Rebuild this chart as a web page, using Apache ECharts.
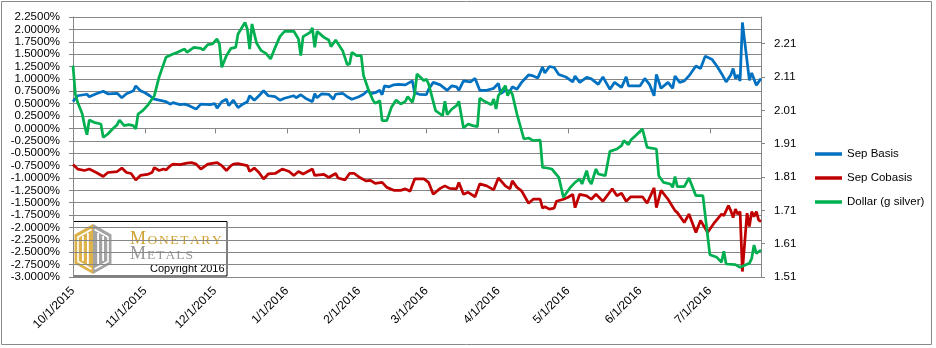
<!DOCTYPE html>
<html>
<head>
<meta charset="utf-8">
<script src="https://cdn.jsdelivr.net/npm/echarts@6/dist/echarts.min.js"></script>
<style>
  html, body { margin: 0; padding: 0; background: #fff; }
  #chart { width: 936px; height: 348px; }
</style>
</head>
<body>
<div id="chart"></div>
<script>
// Month ticks on the date axis
const monthTicks = ['2015-10-01','2015-11-01','2015-12-01','2016-01-01','2016-02-01',
  '2016-03-01','2016-04-01','2016-05-01','2016-06-01','2016-07-01'];
const dateRange = ['2015-10-01', '2016-07-23'];

// Secondary axis ticks (dollar priced in grams of silver)
const dollarTicks = [1.51, 1.61, 1.71, 1.81, 1.91, 2.01, 2.11, 2.21];

// Sep Basis, percent
const basis = [
['2015-10-01',0.54],['2015-10-03',0.66],['2015-10-07',0.69],['2015-10-08',0.64],['2015-10-11',0.70],
['2015-10-14',0.75],['2015-10-16',0.70],['2015-10-20',0.71],['2015-10-22',0.62],['2015-10-24',0.70],
['2015-10-27',0.76],['2015-10-28',0.86],['2015-10-30',0.76],['2015-11-01',0.72],['2015-11-03',0.66],
['2015-11-05',0.59],['2015-11-07',0.57],['2015-11-10',0.54],['2015-11-12',0.49],['2015-11-13',0.52],
['2015-11-16',0.48],['2015-11-18',0.49],['2015-11-20',0.46],['2015-11-23',0.39],['2015-11-25',0.49],
['2015-11-29',0.48],['2015-12-01',0.50],['2015-12-02',0.41],['2015-12-04',0.54],['2015-12-06',0.59],
['2015-12-07',0.46],['2015-12-09',0.57],['2015-12-11',0.42],['2015-12-13',0.49],['2015-12-15',0.54],
['2015-12-16',0.66],['2015-12-18',0.57],['2015-12-20',0.66],['2015-12-22',0.76],['2015-12-24',0.66],
['2015-12-27',0.64],['2015-12-29',0.57],['2015-12-31',0.61],['2016-01-04',0.66],['2016-01-05',0.62],
['2016-01-07',0.68],['2016-01-09',0.61],['2016-01-12',0.54],['2016-01-13',0.70],['2016-01-14',0.62],
['2016-01-16',0.70],['2016-01-19',0.69],['2016-01-21',0.59],['2016-01-22',0.69],['2016-01-25',0.71],
['2016-01-27',0.64],['2016-01-29',0.59],['2016-02-01',0.64],['2016-02-03',0.69],['2016-02-05',0.77],
['2016-02-06',0.70],['2016-02-08',0.72],['2016-02-10',0.77],['2016-02-11',0.68],['2016-02-12',0.86],
['2016-02-14',0.84],['2016-02-16',0.88],['2016-02-18',0.89],['2016-02-21',0.88],['2016-02-24',0.96],
['2016-02-25',0.72],['2016-02-27',0.69],['2016-03-01',0.68],['2016-03-02',0.79],['2016-03-04',0.93],
['2016-03-07',0.88],['2016-03-10',0.77],['2016-03-12',0.86],['2016-03-14',0.84],['2016-03-15',0.77],
['2016-03-17',0.96],['2016-03-20',0.94],['2016-03-22',1.01],['2016-03-24',0.77],['2016-03-27',0.77],
['2016-03-30',0.81],['2016-04-01',0.91],['2016-04-02',0.70],['2016-04-04',0.77],['2016-04-06',0.75],
['2016-04-07',0.84],['2016-04-09',0.79],['2016-04-11',0.93],['2016-04-14',1.08],['2016-04-16',1.06],
['2016-04-18',1.02],['2016-04-20',1.24],['2016-04-21',1.12],['2016-04-23',1.25],['2016-04-25',1.23],
['2016-04-27',1.09],['2016-04-30',1.04],['2016-05-03',0.94],['2016-05-04',1.06],['2016-05-06',0.93],
['2016-05-09',1.03],['2016-05-11',1.00],['2016-05-14',0.89],['2016-05-16',1.04],['2016-05-19',0.79],
['2016-05-21',0.93],['2016-05-24',0.83],['2016-05-26',1.04],['2016-05-27',0.86],['2016-06-01',0.86],
['2016-06-03',1.01],['2016-06-05',0.89],['2016-06-07',0.66],['2016-06-08',1.09],['2016-06-10',0.81],
['2016-06-13',0.93],['2016-06-15',0.81],['2016-06-16',1.06],['2016-06-18',0.93],['2016-06-20',0.96],
['2016-06-22',1.06],['2016-06-25',1.26],['2016-06-27',1.21],['2016-06-29',1.46],['2016-07-02',1.39],
['2016-07-04',1.26],['2016-07-06',1.11],['2016-07-08',0.94],['2016-07-10',1.08],['2016-07-11',1.21],
['2016-07-12',1.01],['2016-07-13',1.08],['2016-07-14',0.96],['2016-07-15',2.14],['2016-07-18',0.97],
['2016-07-19',1.12],['2016-07-21',0.87],['2016-07-23',1.01]
];

// Sep Cobasis, percent
const cobasis = [
['2015-10-01',-0.73],['2015-10-03',-0.82],['2015-10-06',-0.85],['2015-10-08',-0.82],['2015-10-11',-0.89],
['2015-10-14',-0.97],['2015-10-16',-0.89],['2015-10-20',-0.87],['2015-10-22',-0.80],['2015-10-24',-0.89],
['2015-10-26',-0.91],['2015-10-28',-1.04],['2015-10-30',-0.95],['2015-11-02',-0.93],['2015-11-04',-0.89],
['2015-11-05',-0.79],['2015-11-07',-0.85],['2015-11-09',-0.82],['2015-11-10',-0.84],['2015-11-12',-0.75],
['2015-11-13',-0.72],['2015-11-16',-0.73],['2015-11-19',-0.70],['2015-11-21',-0.69],['2015-11-23',-0.72],
['2015-11-25',-0.82],['2015-11-28',-0.72],['2015-12-02',-0.69],['2015-12-04',-0.75],['2015-12-06',-0.85],
['2015-12-08',-0.75],['2015-12-09',-0.72],['2015-12-11',-0.71],['2015-12-13',-0.73],['2015-12-15',-0.75],
['2015-12-16',-0.87],['2015-12-18',-0.80],['2015-12-20',-0.89],['2015-12-22',-1.02],['2015-12-24',-0.92],
['2015-12-27',-0.91],['2015-12-30',-0.82],['2016-01-02',-0.87],['2016-01-04',-0.95],['2016-01-06',-0.87],
['2016-01-08',-0.92],['2016-01-10',-0.87],['2016-01-12',-0.82],['2016-01-13',-0.95],['2016-01-17',-0.93],
['2016-01-19',-0.99],['2016-01-22',-0.91],['2016-01-23',-1.00],['2016-01-26',-1.04],['2016-01-28',-0.91],
['2016-01-30',-0.91],['2016-02-01',-0.98],['2016-02-04',-1.06],['2016-02-06',-1.05],['2016-02-08',-1.11],
['2016-02-11',-1.09],['2016-02-13',-1.19],['2016-02-16',-1.25],['2016-02-19',-1.25],['2016-02-21',-1.22],
['2016-02-23',-1.27],['2016-02-25',-1.02],['2016-02-29',-1.02],['2016-03-02',-1.09],['2016-03-04',-1.33],
['2016-03-07',-1.21],['2016-03-09',-1.16],['2016-03-11',-1.21],['2016-03-14',-1.22],['2016-03-15',-1.09],
['2016-03-17',-1.33],['2016-03-19',-1.29],['2016-03-22',-1.38],['2016-03-24',-1.12],['2016-03-27',-1.16],
['2016-03-30',-1.24],['2016-04-01',-1.00],['2016-04-04',-1.16],['2016-04-06',-1.22],['2016-04-07',-1.06],
['2016-04-09',-1.19],['2016-04-11',-1.26],['2016-04-14',-1.51],['2016-04-16',-1.43],['2016-04-19',-1.43],
['2016-04-20',-1.61],['2016-04-21',-1.58],['2016-04-23',-1.63],['2016-04-25',-1.61],['2016-04-26',-1.47],
['2016-04-29',-1.43],['2016-05-01',-1.39],['2016-05-03',-1.33],['2016-05-04',-1.60],['2016-05-06',-1.33],
['2016-05-09',-1.36],['2016-05-11',-1.43],['2016-05-13',-1.33],['2016-05-16',-1.47],['2016-05-20',-1.22],
['2016-05-22',-1.36],['2016-05-24',-1.31],['2016-05-26',-1.47],['2016-05-28',-1.38],['2016-06-02',-1.38],
['2016-06-04',-1.51],['2016-06-07',-1.20],['2016-06-08',-1.60],['2016-06-10',-1.25],['2016-06-13',-1.43],
['2016-06-16',-1.66],['2016-06-17',-1.70],['2016-06-20',-1.90],['2016-06-22',-1.73],['2016-06-25',-2.10],
['2016-06-27',-1.86],['2016-06-30',-2.10],['2016-07-03',-1.90],['2016-07-06',-1.73],['2016-07-07',-1.76],
['2016-07-09',-1.56],['2016-07-10',-1.66],['2016-07-11',-1.80],['2016-07-12',-1.63],['2016-07-13',-1.73],
['2016-07-14',-1.68],['2016-07-15',-2.89],['2016-07-17',-1.71],['2016-07-18',-1.98],['2016-07-19',-1.68],
['2016-07-20',-1.78],['2016-07-21',-1.68],['2016-07-22',-1.85],['2016-07-23',-1.88]
];

// Dollar, grams of silver
const dollar = [
['2015-10-01',2.144],['2015-10-02',2.059],['2015-10-03',2.034],['2015-10-05',1.999],['2015-10-06',1.964],
['2015-10-07',1.937],['2015-10-08',1.981],['2015-10-10',1.974],['2015-10-13',1.969],['2015-10-14',1.929],
['2015-10-16',1.939],['2015-10-18',1.954],['2015-10-20',1.967],['2015-10-21',1.981],['2015-10-23',1.964],
['2015-10-25',1.967],['2015-10-27',1.964],['2015-10-28',1.954],['2015-10-29',1.999],['2015-10-31',2.009],
['2015-11-02',2.024],['2015-11-05',2.054],['2015-11-07',2.109],['2015-11-08',2.129],['2015-11-10',2.169],
['2015-11-13',2.179],['2015-11-15',2.184],['2015-11-18',2.194],['2015-11-19',2.184],['2015-11-22',2.199],
['2015-11-25',2.196],['2015-11-26',2.191],['2015-11-28',2.207],['2015-11-30',2.209],['2015-12-02',2.224],
['2015-12-03',2.209],['2015-12-04',2.139],['2015-12-06',2.174],['2015-12-08',2.196],['2015-12-10',2.199],
['2015-12-11',2.239],['2015-12-14',2.274],['2015-12-15',2.254],['2015-12-16',2.194],['2015-12-17',2.269],
['2015-12-19',2.211],['2015-12-21',2.189],['2015-12-23',2.181],['2015-12-25',2.164],['2015-12-27',2.199],
['2015-12-29',2.231],['2015-12-31',2.247],['2016-01-04',2.247],['2016-01-06',2.224],['2016-01-07',2.174],
['2016-01-08',2.231],['2016-01-11',2.244],['2016-01-12',2.257],['2016-01-13',2.199],['2016-01-14',2.247],
['2016-01-17',2.229],['2016-01-19',2.221],['2016-01-20',2.201],['2016-01-22',2.221],['2016-01-25',2.189],
['2016-01-27',2.147],['2016-01-28',2.149],['2016-01-29',2.184],['2016-01-31',2.174],['2016-02-02',2.174],
['2016-02-03',2.114],['2016-02-05',2.074],['2016-02-07',2.041],['2016-02-08',2.031],['2016-02-10',2.039],
['2016-02-11',1.979],['2016-02-13',1.979],['2016-02-15',2.019],['2016-02-17',2.041],['2016-02-19',2.029],
['2016-02-21',2.037],['2016-02-22',2.051],['2016-02-24',2.034],['2016-02-25',2.060],['2016-02-26',2.119],
['2016-02-29',2.099],['2016-03-01',2.104],['2016-03-02',2.089],['2016-03-05',2.009],['2016-03-07',1.999],
['2016-03-08',1.994],['2016-03-09',2.037],['2016-03-10',1.997],['2016-03-12',2.014],['2016-03-14',2.024],
['2016-03-15',2.037],['2016-03-17',1.957],['2016-03-19',1.969],['2016-03-21',1.964],['2016-03-23',1.961],
['2016-03-24',2.047],['2016-03-26',2.037],['2016-03-29',2.027],['2016-03-30',2.044],['2016-03-31',2.014],
['2016-04-01',2.054],['2016-04-04',2.084],['2016-04-05',2.054],['2016-04-06',2.069],['2016-04-07',2.059],
['2016-04-09',1.999],['2016-04-12',1.924],['2016-04-14',1.927],['2016-04-16',1.919],['2016-04-19',1.921],
['2016-04-20',1.839],['2016-04-22',1.837],['2016-04-24',1.834],['2016-04-27',1.809],['2016-04-29',1.749],
['2016-05-02',1.779],['2016-05-04',1.794],['2016-05-06',1.804],['2016-05-07',1.789],['2016-05-09',1.829],
['2016-05-10',1.800],['2016-05-11',1.789],['2016-05-13',1.834],['2016-05-14',1.819],['2016-05-17',1.814],
['2016-05-19',1.887],['2016-05-22',1.894],['2016-05-24',1.904],['2016-05-25',1.919],['2016-05-27',1.907],
['2016-05-28',1.921],['2016-05-30',1.934],['2016-06-02',1.954],['2016-06-04',1.899],['2016-06-08',1.894],
['2016-06-09',1.814],['2016-06-11',1.794],['2016-06-14',1.789],['2016-06-15',1.779],['2016-06-16',1.811],
['2016-06-17',1.781],['2016-06-20',1.781],['2016-06-22',1.807],['2016-06-25',1.754],['2016-06-28',1.754],
['2016-07-01',1.577],['2016-07-04',1.569],['2016-07-06',1.554],['2016-07-07',1.587],['2016-07-08',1.549],
['2016-07-12',1.547],['2016-07-14',1.539],['2016-07-16',1.545],['2016-07-18',1.551],['2016-07-19',1.566],
['2016-07-20',1.606],['2016-07-21',1.581],['2016-07-23',1.591]
];

// Parse 'YYYY-MM-DD' as a local-time timestamp
function toTime(s) {
  const p = s.split('-').map(Number);
  return new Date(p[0], p[1] - 1, p[2]).getTime();
}
const asPoints = rows => rows.map(r => [toTime(r[0]), r[1]]);
const monthStamps = monthTicks.map(toTime);

const AXIS_GREY = '#868686';
const FONT = '"Liberation Sans", Arial, sans-serif';
const SERIF = '"Liberation Serif", "DejaVu Serif", serif';

const chart = echarts.init(document.getElementById('chart'), null, { renderer: 'canvas' });

const gold = '#DDB24A';
const grey = '#A3A3A3';
const wordGold = '#CFA232';
const wordGrey = '#989898';

// small-caps wordmark: a tall initial followed by spaced smaller capitals
function wordmark(colour, gap) {
  return {
    b: { fontFamily: SERIF, fontSize: 18, fill: colour, verticalAlign: 'bottom', padding: [0, gap, 0, 0] },
    s: { fontFamily: SERIF, fontSize: 13.5, fill: colour, verticalAlign: 'bottom', padding: [0, gap, 1, 0] }
  };
}

chart.setOption({
  animation: false,
  backgroundColor: '#fff',
  grid: { left: 73, right: 175, top: 17, bottom: 71 },
  legend: {
    orient: 'vertical',
    left: 810,
    top: 142,
    itemWidth: 27,
    itemHeight: 3.5,
    itemGap: 10,
    icon: 'rect',
    textStyle: { fontFamily: FONT, fontSize: 11.5, color: '#000', lineHeight: 14 },
    data: ['Sep Basis', 'Sep Cobasis', 'Dollar (g silver)']
  },
  xAxis: {
    // dates as timestamps on a linear scale, ticked at each month start
    type: 'value',
    min: toTime(dateRange[0]),
    max: toTime(dateRange[1]),
    axisLine: { show: true, lineStyle: { color: AXIS_GREY, width: 1 } },
    axisTick: { show: true, length: 5, lineStyle: { color: AXIS_GREY }, customValues: monthStamps },
    splitLine: { show: false },
    axisLabel: {
      customValues: monthStamps,
      rotate: 45,
      margin: 12,
      fontFamily: FONT,
      fontSize: 12,
      color: '#000',
      formatter: v => {
        const d = new Date(v);
        return (d.getMonth() + 1) + '/' + d.getDate() + '/' + d.getFullYear();
      }
    }
  },
  yAxis: [{
    type: 'value',
    min: -3,
    max: 2.25,
    interval: 0.25,
    axisLine: { show: true, lineStyle: { color: AXIS_GREY, width: 1 } },
    axisTick: { show: true, length: 4, lineStyle: { color: AXIS_GREY } },
    splitLine: { show: true, lineStyle: { color: AXIS_GREY, width: 1 } },
    axisLabel: {
      margin: 13,
      fontFamily: FONT,
      fontSize: 11.5,
      color: '#000',
      formatter: v => v.toFixed(4) + '%'
    }
  }, {
    type: 'value',
    position: 'right',
    min: 1.51,
    max: 2.29,
    axisLine: { show: true, lineStyle: { color: AXIS_GREY, width: 1 } },
    axisTick: { show: true, length: 4, lineStyle: { color: AXIS_GREY }, customValues: dollarTicks },
    splitLine: { show: false },
    axisLabel: {
      customValues: dollarTicks,
      margin: 13,
      fontFamily: FONT,
      fontSize: 11.5,
      color: '#000',
      formatter: v => v.toFixed(2)
    }
  }],
  series: [{
    name: 'Sep Basis',
    type: 'line',
    yAxisIndex: 0,
    showSymbol: false,
    color: '#0070C0',
    lineStyle: { width: 2.75, color: '#0070C0' },
    data: asPoints(basis)
  }, {
    name: 'Sep Cobasis',
    type: 'line',
    yAxisIndex: 0,
    showSymbol: false,
    color: '#C00000',
    lineStyle: { width: 2.75, color: '#C00000' },
    data: asPoints(cobasis)
  }, {
    name: 'Dollar (g silver)',
    type: 'line',
    yAxisIndex: 1,
    showSymbol: false,
    color: '#00B050',
    lineStyle: { width: 2.75, color: '#00B050' },
    data: asPoints(dollar)
  }],
  graphic: [
    // outer frame
    { type: 'rect', silent: true, z: 0,
      shape: { x: 1.5, y: 1.5, width: 930, height: 343 },
      style: { fill: null, stroke: '#8a8a8a', lineWidth: 1 } },
    // logo box
    { type: 'group', z: 100, children: [
      { type: 'rect', shape: { x: 73.5, y: 221.5, width: 153.5, height: 54.5 },
        style: { fill: '#fff', stroke: '#000', lineWidth: 1 } },
      { type: 'polygon', shape: { points: [[93, 224], [93, 274], [74.5, 263.5], [74.5, 234.5]] },
        style: { fill: gold } },
      { type: 'polygon', shape: { points: [[93, 224], [111.5, 234.5], [111.5, 263.5], [93, 274]] },
        style: { fill: grey } },
      { type: 'polyline', shape: { points: [[91.5, 269], [78, 261.5], [78, 237], [91.5, 229.5]] },
        style: { stroke: '#fff', lineWidth: 1.6, fill: null } },
      { type: 'polyline', shape: { points: [[94.5, 269], [108, 261.5], [108, 237], [94.5, 229.5]] },
        style: { stroke: '#fff', lineWidth: 1.6, fill: null } },
      { type: 'rect', shape: { x: 82, y: 236, width: 1.8, height: 25 }, style: { fill: '#fff' } },
      { type: 'rect', shape: { x: 87, y: 233, width: 1.8, height: 31 }, style: { fill: '#fff' } },
      { type: 'rect', shape: { x: 97.2, y: 233, width: 1.8, height: 31 }, style: { fill: '#fff' } },
      { type: 'rect', shape: { x: 102.2, y: 236, width: 1.8, height: 25 }, style: { fill: '#fff' } },
      { type: 'text', x: 130, y: 248,
        style: {
          text: '{b|M}{s|O}{s|N}{s|E}{s|T}{s|A}{s|R}{s|Y}',
          verticalAlign: 'bottom',
          rich: wordmark(wordGold, 1.6)
        } },
      { type: 'text', x: 130, y: 263,
        style: {
          text: '{b|M}{s|E}{s|T}{s|A}{s|L}{s|S}',
          verticalAlign: 'bottom',
          rich: wordmark(wordGrey, 1)
        } },
      { type: 'text', x: 150, y: 268.5,
        style: { text: 'Copyright 2016', fontFamily: FONT, fontSize: 11, fill: '#000', verticalAlign: 'middle' } }
    ] }
  ]
});
</script>
</body>
</html>
